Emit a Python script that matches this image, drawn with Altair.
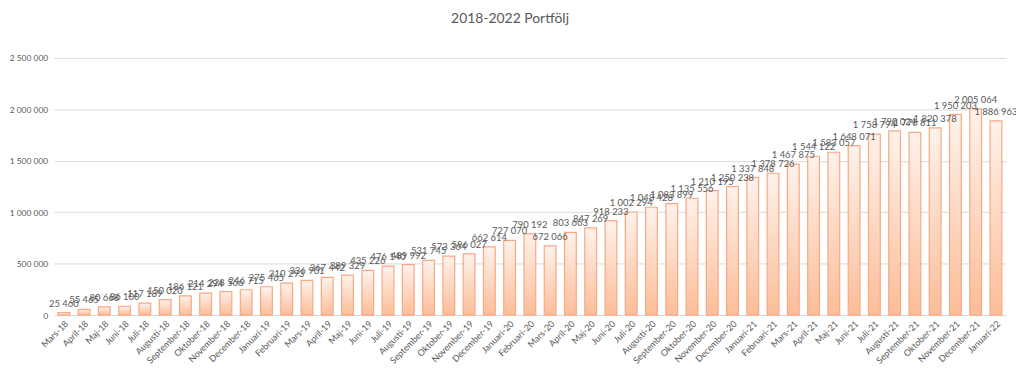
import altair as alt
import pandas as pd

months = [
    "Mars-18", "April-18", "Maj-18", "Juni-18", "Juli-18", "Augusti-18", "September-18",
    "Oktober-18", "November-18", "December-18",
    "Januari-19", "Februari-19", "Mars-19", "April-19", "Maj-19", "Juni-19", "Juli-19",
    "Augusti-19", "September-19", "Oktober-19", "November-19", "December-19",
    "Januari-20", "Februari-20", "Mars-20", "April-20", "Maj-20", "Juni-20", "Juli-20",
    "Augusti-20", "September-20", "Oktober-20", "November-20", "December-20",
    "Januari-21", "Februari-21", "Mars-21", "April-21", "Maj-21", "Juni-21", "Juli-21",
    "Augusti-21", "September-21", "Oktober-21", "November-21", "December-21",
    "Januari-22",
]
values = [
    25460, 55465, 80668, 86100, 117189, 150020, 186121, 214294, 228566, 246715,
    275465, 310293, 336901, 367442, 389329, 435226, 476140, 489992, 531745, 573364,
    596027, 662614,
    727070, 790192, 672066, 803663, 847269, 918233, 1002294, 1048428, 1083899, 1135556,
    1210195, 1250238,
    1337848, 1378726, 1467875, 1544122, 1583057, 1648071, 1758794, 1790024, 1776811,
    1820378, 1950203, 2005064,
    1886963,
]

df = pd.DataFrame({"month": months, "value": values})
df["label"] = [f"{v:,}".replace(",", " ") for v in values]

FONT = "Lato"
GRAY = "#595959"

x = alt.X("month:N", sort=months, title=None,
          scale=alt.Scale(paddingInner=0.42, paddingOuter=0.21),
          axis=alt.Axis(labelAngle=-45, labelFontSize=9, labelColor=GRAY, labelFont=FONT,
                        ticks=False, domain=False, labelPadding=4))
y = alt.Y("value:Q", title=None,
          scale=alt.Scale(domain=[0, 2500000], nice=False),
          axis=alt.Axis(values=[0, 500000, 1000000, 1500000, 2000000, 2500000],
                        labelExpr="replace(format(datum.value, ',d'), /,/g, ' ')",
                        labelFontSize=8.5, labelColor=GRAY, labelFont=FONT,
                        ticks=False, domain=False, labelPadding=6,
                        gridColor="#d9d9d9", gridWidth=1))

grad = alt.Gradient(
    gradient="linear",
    stops=[alt.GradientStop(color="#fff2eb", offset=0),
           alt.GradientStop(color="#fbbd99", offset=1)],
    x1=0, x2=0, y1=0, y2=1,
)

bars = alt.Chart(df).mark_bar(color=grad, stroke="#f8a882", strokeWidth=1.2).encode(x=x, y=y)
labels = alt.Chart(df).mark_text(dy=-9, fontSize=9.5, color=GRAY, font=FONT).encode(
    x=alt.X("month:N", sort=months), y="value:Q", text="label:N")

chart = (bars + labels).properties(
    width=959, height=259,
    autosize=alt.AutoSizeParams(type="none"),
    padding={"left": 46, "top": 49, "right": 10, "bottom": 50},
    title=alt.TitleParams("2018-2022 Portfölj", fontSize=14, font=FONT, color=GRAY,
                          fontWeight="normal", offset=28, dx=-20),
).configure_view(stroke=None)

chart.save("out.html", embed_options={"renderer": "svg", "actions": False})
